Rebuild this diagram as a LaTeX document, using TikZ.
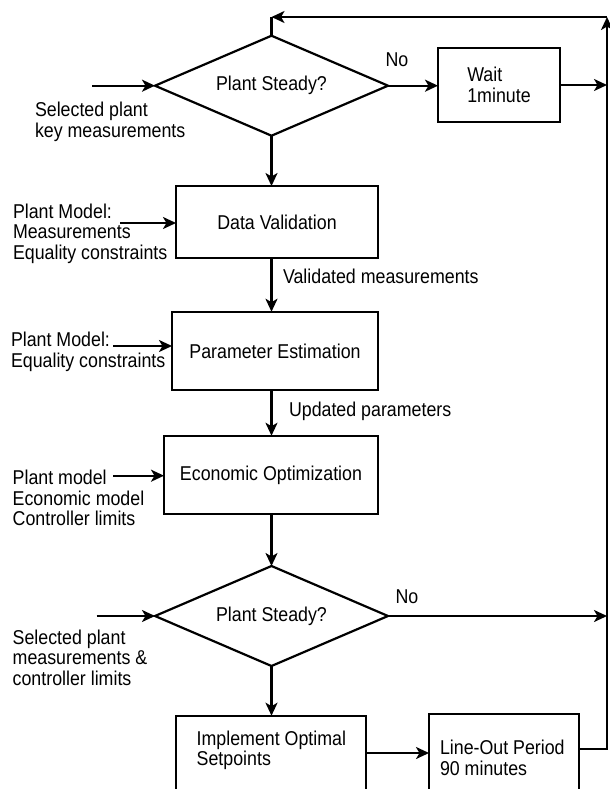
\documentclass[tikz,border=0pt]{standalone}
\usepackage{fontspec}
\setmainfont{Liberation Sans}[FakeStretch=0.89]
\usetikzlibrary{shapes.geometric,arrows.meta,calc}
\begin{document}
\begin{tikzpicture}[x=1bp,y=-1bp,
  line width=2.2bp,
  arr/.style={-{Stealth[length=13bp,width=12bp,inset=3.5bp]}},
  txt/.style={font=\fontsize{20bp}{20.5bp}\selectfont, inner sep=0pt, outer sep=0pt, align=left},
  box/.style={draw, rectangle, inner sep=0pt, outer sep=0pt, font=\fontsize{20bp}{21.5bp}\selectfont, align=left},
  dec/.style={draw, diamond, aspect=2.33, minimum width=233bp, minimum height=100bp, inner sep=0pt, outer sep=0pt, font=\fontsize{20bp}{20.5bp}\selectfont},
]
\useasboundingbox (0,0) rectangle (610,789);
\clip (0,0) rectangle (610,789);
\fill[white] (0,0) rectangle (610,789);

% main nodes
\node[dec] (d1) at (271.5,85.7) {Plant Steady?};
\node[box, minimum width=122bp, minimum height=74bp] (wait) at (499,85) {Wait\\1minute};
\node[box, minimum width=202bp, minimum height=71.7bp] (dv) at (277,221.9) {Data Validation};
\node[box, minimum width=206bp, minimum height=78.3bp] (pe) at (275,350.9) {Parameter Estimation};
\node[box, minimum width=214bp, minimum height=78.3bp] (eo) at (271,474.9) {Economic Optimization};
\node[dec] (d2) at (271.5,616) {Plant Steady?};
\node[box, anchor=north west, minimum width=190.3bp, minimum height=120bp] (impl) at (175.7,715.7) {};
\node[txt, anchor=west] (implt) at (196.7,750.3) {Implement Optimal\\Setpoints};
\node[box, anchor=north west, minimum width=150bp, minimum height=120bp] (lo) at (429,714) {};
\node[txt, anchor=west] (lot) at (440,757.7) {Line-Out Period\\90 minutes};

% labels
\node[txt, anchor=west] (in1) at (35,122) {Selected plant\\key measurements};
\node[txt, anchor=west] (in2) at (13,233.5) {Plant Model:\\Measurements\\Equality constraints};
\node[txt, anchor=west] (in3) at (11,351.7) {Plant Model:\\Equality constraints};
\node[txt, anchor=west] (in4) at (12.7,498) {Plant model\\Economic model\\Controller limits};
\node[txt, anchor=west] (in5) at (12.7,657.5) {Selected plant\\measurements \&\\controller limits};
\node[txt, anchor=west] (l1) at (283,276) {Validated measurements};
\node[txt, anchor=west] (l2) at (289,411.7) {Updated parameters};
\node[txt] (no1) at (397,60) {No};
\node[txt] (no2) at (407,597) {No};

% free ends
\coordinate (s1) at (92,85.7);
\coordinate (s2) at (120,223);
\coordinate (s3) at (113,346);
\coordinate (s4) at (113,475.7);
\coordinate (s5) at (96.7,616);
\coordinate (rt) at (607,17);
\coordinate (tl) at (d1.north |- rt);
\coordinate (m1) at (0,753);
\coordinate (m2) at (0,749);

% connectors
\draw[arr] (s1) -- (d1.west);
\draw[arr] (d1.east) -- (d1.east -| wait.west);
\draw[arr] (wait.east) -- (wait.east -| rt);
\draw[arr] (d1.south) -- (d1.south |- dv.north);
\draw[arr] (s2) -- (s2 -| dv.west);
\draw[arr] (dv.south -| d1.south) -- (pe.north -| d1.south);
\draw[arr] (s3) -- (s3 -| pe.west);
\draw[arr] (pe.south -| d1.south) -- (eo.north -| d1.south);
\draw[arr] (s4) -- (s4 -| eo.west);
\draw[arr] (eo.south -| d2.north) -- (d2.north);
\draw[arr] (s5) -- (d2.west);
\draw[arr] (d2.east) -- (d2.east -| rt);
\draw[arr] (d2.south) -- (d2.south |- impl.north);
\draw[arr] (impl.east |- m1) -- (lo.west |- m1);
\draw[arr] (lo.east |- m2) -| (rt);
\draw[arr] (rt) -- (tl);
\draw (tl) -- (d1.north);
\end{tikzpicture}
\end{document}
